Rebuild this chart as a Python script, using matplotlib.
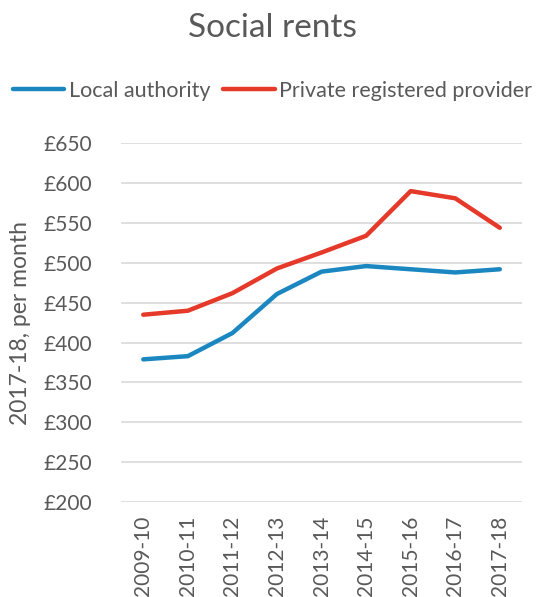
import numpy as np
import matplotlib.pyplot as plt

plt.rcParams['font.family'] = ['Lato', 'DejaVu Sans']

years = ['2009-10', '2010-11', '2011-12', '2012-13', '2013-14',
         '2014-15', '2015-16', '2016-17', '2017-18']
local_authority = [379, 383, 412, 461, 489, 496, 492, 488, 492]
private_provider = [435, 440, 462, 493, 513, 534, 590, 581, 544]
y_ticks = [200, 250, 300, 350, 400, 450, 500, 550, 600, 650]

grey = '#595959'

fig = plt.figure(figsize=(5.45, 5.97), dpi=100)
ax = fig.add_axes([0.222, 0.159, 0.736, 0.601])

x = np.arange(len(years))
ax.plot(x, local_authority, color='#1b87c1', lw=3.2, label='Local authority',
        solid_capstyle='round', solid_joinstyle='round')
ax.plot(x, private_provider, color='#e5392a', lw=3.2, label='Private registered provider',
        solid_capstyle='round', solid_joinstyle='round')

ax.set_xlim(-0.5, len(years) - 0.5)
ax.set_ylim(200, 650)
ax.set_yticks(y_ticks)
ax.set_yticklabels(['£%d' % v for v in y_ticks])
ax.set_xticks(x)
ax.set_xticklabels(years, rotation=90)
ax.tick_params(length=0, labelsize=15, colors=grey)
ax.tick_params(axis='y', pad=21)
ax.tick_params(axis='x', pad=10)
ax.grid(axis='y', color='#d9d9d9', lw=1.2)
ax.set_axisbelow(True)
for s in ax.spines.values():
    s.set_visible(False)

ax.set_ylabel('2017-18, per month', fontsize=16.5, color=grey)
ax.yaxis.set_label_coords(-0.225, 0.5)

fig.text(0.5, 0.953, 'Social rents', ha='center', va='center', fontsize=24, color=grey)

fig.legend(loc='center', bbox_to_anchor=(0.5, 0.848), ncol=2, frameon=False,
           fontsize=15.5, labelcolor=grey, handlelength=2.4, handletextpad=0.2,
           columnspacing=0.6)

fig.savefig('out.png', dpi=100)
